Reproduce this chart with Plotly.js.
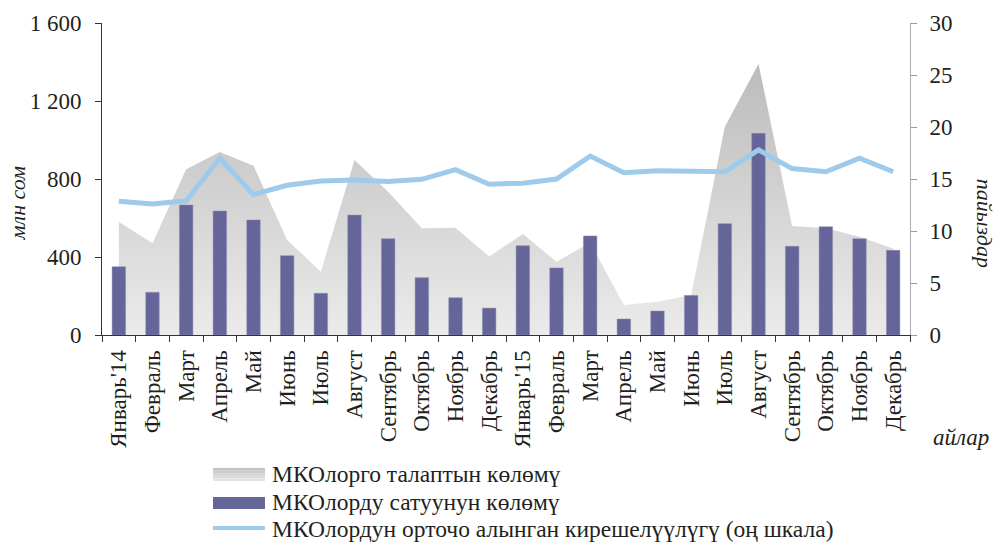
<!DOCTYPE html>
<html>
<head>
<meta charset="utf-8">
<script src="https://cdn.plot.ly/plotly-3.0.1.min.js"></script>
<style>html,body{margin:0;padding:0;background:#fff;}#chart{width:996px;height:545px;}</style>
</head>
<body>
<div id="chart"></div>
<script>
var categories = ["2014-01","2014-02","2014-03","2014-04","2014-05","2014-06","2014-07","2014-08","2014-09","2014-10","2014-11","2014-12",
                  "2015-01","2015-02","2015-03","2015-04","2015-05","2015-06","2015-07","2015-08","2015-09","2015-10","2015-11","2015-12"];
var monthLabels = ["Январь'14","Февраль","Март","Апрель","Май","Июнь","Июль","Август","Сентябрь","Октябрь","Ноябрь","Декабрь",
                   "Январь'15","Февраль","Март","Апрель","Май","Июнь","Июль","Август","Сентябрь","Октябрь","Ноябрь","Декабрь"];
var demand = [581,470,850,938,868,487,325,897,735,547,550,402,518,376,473,154,171,205,1068,1390,559,547,504,444];
var sales  = [350,219,667,636,590,407,214,615,494,294,191,138,458,344,508,82,123,203,571,1034,455,555,494,434];
var yieldPct = [12.86,12.6,12.9,17.0,13.5,14.4,14.8,14.9,14.75,14.97,15.9,14.5,14.6,15.0,17.2,15.6,15.8,15.8,15.7,17.8,16.0,15.7,17.0,15.7];
var leftTicks = [0,400,800,1200,1600];
var leftTickText = ["0","400","800","1 200","1 600"];
var rightTicks = [0,5,10,15,20,25,30];
var names = ["МКОлорго талаптын көлөмү","МКОлорду сатуунун көлөмү","МКОлордун орточо алынган кирешелүүлүгү (оң шкала)"];

var fontFam = "Liberation Serif";
var areaColors = ['#ebebeb','#bbbbbb'];
var barColor = '#65659a';
var lineColor = '#9ecbec';

var traces = [
  {type:'scatter', x:categories, y:demand, name:names[0], mode:'none', fill:'tozeroy', yaxis:'y',
   fillgradient:{type:'vertical', start:0, stop:1400, colorscale:[[0,areaColors[0]],[1,areaColors[1]]]},
   hoverinfo:'skip', showlegend:false},
  {type:'bar', x:categories, y:sales, name:names[1], yaxis:'y2', marker:{color:barColor, line:{color:'#8a8ab0', width:0.5}}, width:0.4, showlegend:false},
  {type:'scatter', x:categories, y:yieldPct, name:names[2], mode:'lines', yaxis:'y3',
   line:{color:lineColor, width:5}, showlegend:false}
];

// Custom legend (paper coordinates)
var lgX0 = 0.1374, lgX1 = 0.2017, lgTx = 0.2079;
var shapes = [];
var stripes = ['#c2c2c2','#cacaca','#d3d3d3','#dbdbdb','#e3e3e3'];
var r1top = -0.4263, r1bot = -0.4679, sh = (r1top - r1bot) / stripes.length;
for (var i = 0; i < stripes.length; i++) {
  shapes.push({type:'rect', xref:'paper', yref:'paper', x0:lgX0, x1:lgX1, y0:r1top - (i+1)*sh, y1:r1top - i*sh,
               fillcolor:stripes[i], line:{width:0}, layer:'above'});
}
shapes.push({type:'rect', xref:'paper', yref:'paper', x0:lgX0, x1:lgX1, y0:-0.5577, y1:-0.5192, fillcolor:barColor, line:{width:0}});
shapes.push({type:'line', xref:'paper', yref:'paper', x0:lgX0, x1:lgX1, y0:-0.6186, y1:-0.6186, line:{color:lineColor, width:4}});

var legendText = [
  {text:names[0], y:-0.445},
  {text:names[1], y:-0.535},
  {text:names[2], y:-0.622}
];
var annotations = [
  {text:'млн сом', xref:'paper', yref:'paper', x:-0.1046, y:0.423, xanchor:'center', yanchor:'middle', textangle:-90, showarrow:false, font:{size:22, style:'italic'}},
  {text:'пайыздар', xref:'paper', yref:'paper', x:1.0916, y:0.36, xanchor:'center', yanchor:'middle', textangle:90, showarrow:false, font:{size:22, style:'italic'}},
  {text:'айлар', xref:'paper', yref:'paper', x:1.063, y:-0.327, xanchor:'center', yanchor:'middle', showarrow:false, font:{size:23, style:'italic'}}
];
legendText.forEach(function(l){
  annotations.push({text:l.text, xref:'paper', yref:'paper', x:lgTx, y:l.y, xanchor:'left', yanchor:'middle', showarrow:false,
                    font:{size:23.5}});
});

var layout = {
  width:996, height:545,
  margin:{l:102, r:86, t:23, b:210},
  paper_bgcolor:'#fff', plot_bgcolor:'rgba(0,0,0,0)',
  font:{family:fontFam, size:22, color:'#231f20'},
  showlegend:false,
  xaxis:{type:'category', tickmode:'array', tickvals:categories, ticktext:monthLabels, tickangle:-90,
         tickson:'boundaries', ticks:'outside', ticklen:6, tickcolor:'#333', showline:true, linecolor:'#333', linewidth:1,
         showgrid:false, zeroline:false, tickfont:{size:23}, range:[-0.5,23.5], ticklabelstandoff:5},
  yaxis:{range:[0,1600], tickmode:'array', tickvals:leftTicks, ticktext:leftTickText, ticks:'outside', ticklen:6, tickcolor:'#333',
         showline:true, linecolor:'#333', linewidth:1, showgrid:false, zeroline:false, tickfont:{size:23}, ticklabelstandoff:9},
  yaxis2:{range:[0,1600], overlaying:'y', visible:false, showgrid:false, zeroline:false},
  yaxis3:{range:[0,30], overlaying:'y', side:'right', tickmode:'array', tickvals:rightTicks, ticks:'outside', ticklen:6, tickcolor:'#999',
          showline:true, linecolor:'#aaa', linewidth:1, showgrid:false, zeroline:false, tickfont:{size:23}, ticklabelstandoff:8},
  shapes:shapes,
  annotations:annotations,
  hovermode:false
};
Plotly.newPlot('chart', traces, layout, {displayModeBar:false, staticPlot:true});
</script>
</body>
</html>
